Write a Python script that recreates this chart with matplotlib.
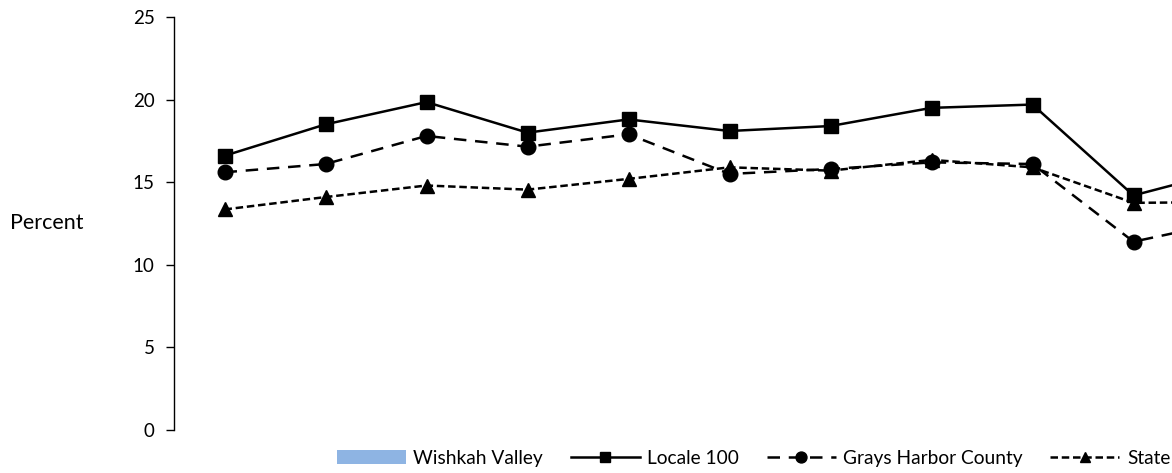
import matplotlib
matplotlib.use("Agg")
import matplotlib.pyplot as plt
import numpy as np

plt.rcParams['font.family'] = ['Lato', 'DejaVu Sans']

# 値（右端は図の外に切れている）
years = list(range(11))
wishkah = [np.nan] * 11
locale100 = [16.6, 18.5, 19.85, 18.0, 18.8, 18.1, 18.4, 19.5, 19.7, 14.2, 15.8]
grays = [15.6, 16.1, 17.8, 17.15, 17.9, 15.5, 15.8, 16.2, 16.1, 11.4, 12.7]
state = [13.35, 14.1, 14.8, 14.55, 15.2, 15.9, 15.7, 16.35, 15.9, 13.75, 13.8]
yticks = [0, 5, 10, 15, 20, 25]

fig = plt.figure(figsize=(11.72, 4.73), dpi=100)
ax = fig.add_axes([174 / 1172, 1 - 430 / 473, 1111 / 1172, 413 / 473])

x = np.arange(len(years))
bars = ax.bar(x, wishkah, color="#8EB4E3", width=0.6, label="Wishkah Valley")
l1, = ax.plot(x, locale100, color="black", linewidth=1.8, marker="s",
              markersize=10.5, label="Locale 100")
l2, = ax.plot(x, grays, color="black", linewidth=1.8, dashes=(5, 3.5),
              marker="o", markersize=10.5, label="Grays Harbor County")
l3, = ax.plot(x, state, color="black", linewidth=1.8, dashes=(3, 1.5),
              marker="^", markersize=10.5, label="State")

ax.set_xlim(-0.5, len(years) - 0.5)
ax.set_ylim(0, 25)
ax.set_yticks(yticks)
ax.tick_params(axis="y", direction="out", length=6, width=1, labelsize=13.5, pad=8)
ax.set_xticks([])
for s in ["top", "right", "bottom"]:
    ax.spines[s].set_visible(False)
ax.spines["left"].set_linewidth(1)

fig.text(10 / 1172, 1 - 223 / 473, "Percent", fontsize=15.5, va="center", ha="left")

fig.legend(handles=[bars, l1, l2, l3], loc="center left",
           bbox_to_anchor=(337 / 1172, 1 - 458 / 473), ncol=4, frameon=False,
           fontsize=13.75, handlelength=3.6, columnspacing=1.45, handletextpad=0.4,
           markerscale=0.75, borderaxespad=0, borderpad=0)

fig.savefig("out.png", dpi=100)
